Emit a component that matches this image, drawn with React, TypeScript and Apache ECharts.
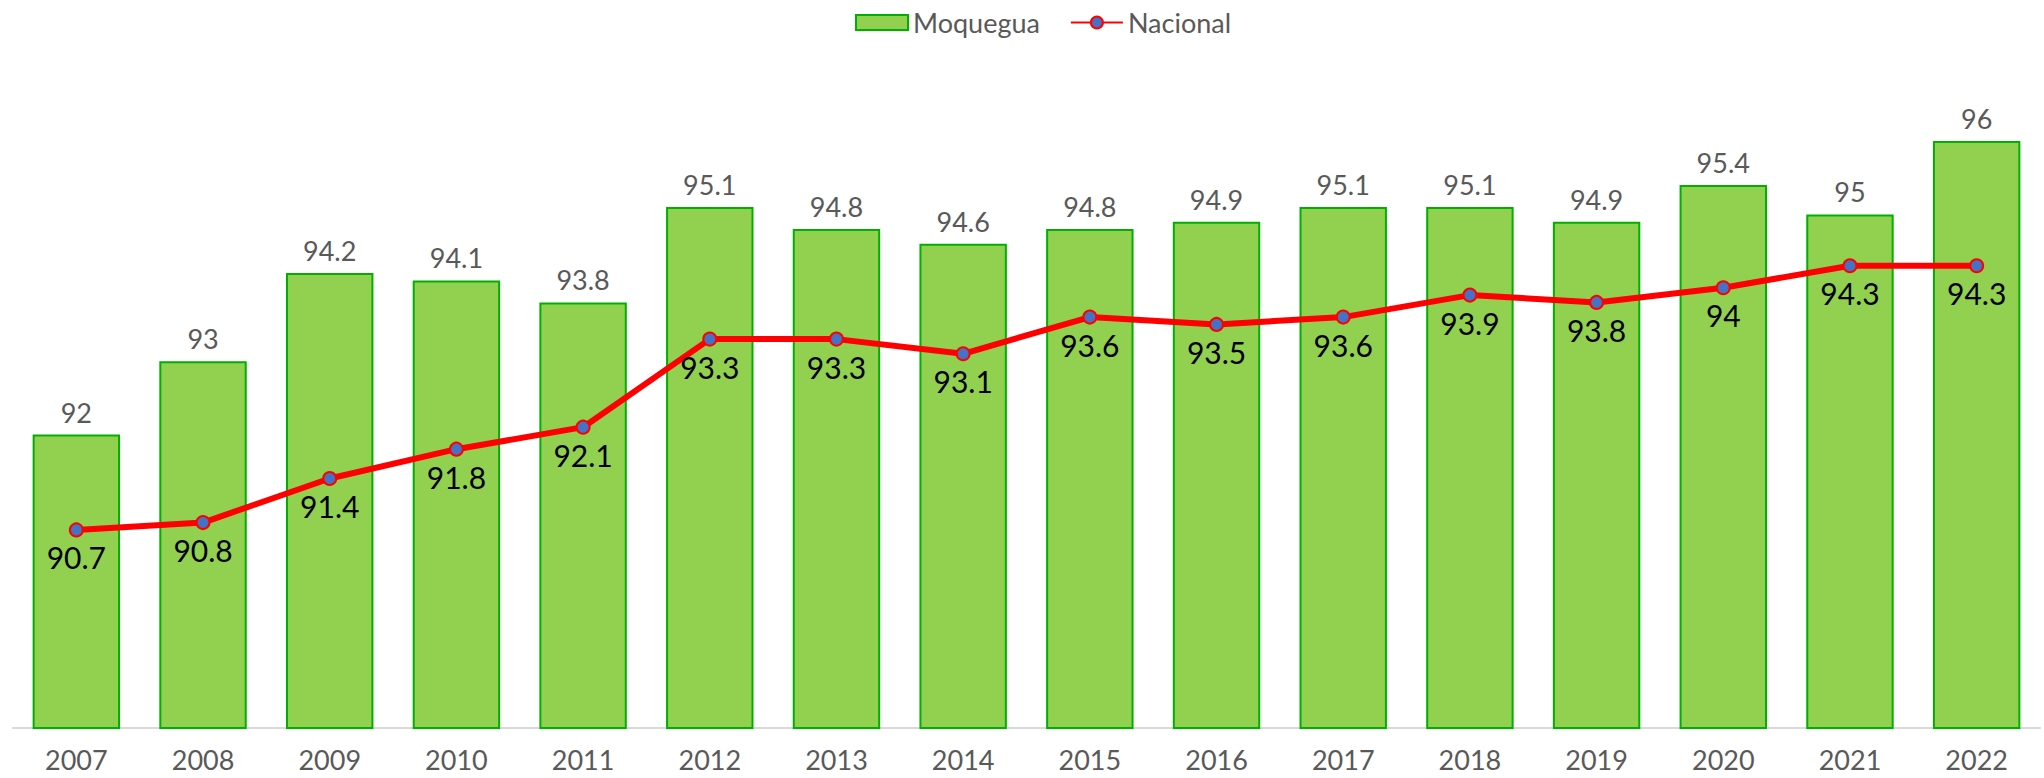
import React, { useEffect, useRef } from "react";
import * as echarts from "echarts";

const years = ["2007","2008","2009","2010","2011","2012","2013","2014","2015","2016","2017","2018","2019","2020","2021","2022"];
const moquegua = [92, 93, 94.2, 94.1, 93.8, 95.1, 94.8, 94.6, 94.8, 94.9, 95.1, 95.1, 94.9, 95.4, 95, 96];
const nacional = [90.7, 90.8, 91.4, 91.8, 92.1, 93.3, 93.3, 93.1, 93.6, 93.5, 93.6, 93.9, 93.8, 94, 94.3, 94.3];

const FONT = "Lato, 'Noto Sans', sans-serif";

export default function App() {
  const ref = useRef<HTMLDivElement>(null);
  useEffect(() => {
    if (!ref.current) return;
    const chart = echarts.init(ref.current, null, { renderer: "svg" });
    chart.setOption({
      animation: false,
      backgroundColor: "#ffffff",
      textStyle: { fontFamily: FONT },
      legend: {
        top: 4,
        left: 850,
        itemWidth: 52,
        itemHeight: 15,
        itemGap: 30,
        textStyle: { fontSize: 27, color: "#595959", fontFamily: FONT },
        data: [
          { name: "Moquegua", icon: "rect" },
          { name: "Nacional" },
        ],
      },
      grid: { left: 13, right: 4, top: 141, bottom: 50, containLabel: false },
      xAxis: {
        type: "category",
        data: years,
        axisLine: { show: true, lineStyle: { color: "#D9D9D9", width: 2 } },
        axisTick: { show: false },
        axisLabel: { fontSize: 27, color: "#595959", margin: 18, fontFamily: FONT },
      },
      yAxis: {
        type: "value",
        min: 88,
        max: 96,
        show: false,
        splitLine: { show: false },
      },
      series: [
        {
          name: "Moquegua",
          type: "bar",
          data: moquegua,
          barCategoryGap: "31%",
          itemStyle: { color: "#92D050", borderColor: "#00B000", borderWidth: 2 },
          label: {
            show: true,
            position: "top",
            distance: 9,
            fontSize: 27,
            color: "#595959",
            fontFamily: FONT,
          },
        },
        {
          name: "Nacional",
          type: "line",
          data: nacional,
          symbol: "circle",
          symbolSize: 13,
          lineStyle: { color: "#FF0000", width: 6 },
          itemStyle: { color: "#4472C4", borderColor: "#FF0000", borderWidth: 2 },
          label: {
            show: true,
            position: "bottom",
            distance: 5,
            fontSize: 30,
            color: "#000000",
            fontFamily: FONT,
          },
          z: 5,
        },
      ],
    });
    return () => chart.dispose();
  }, []);
  return (
    <div
      ref={ref}
      style={{ position: "fixed", left: 0, top: 0, width: 2044, height: 778 }}
    />
  );
}
